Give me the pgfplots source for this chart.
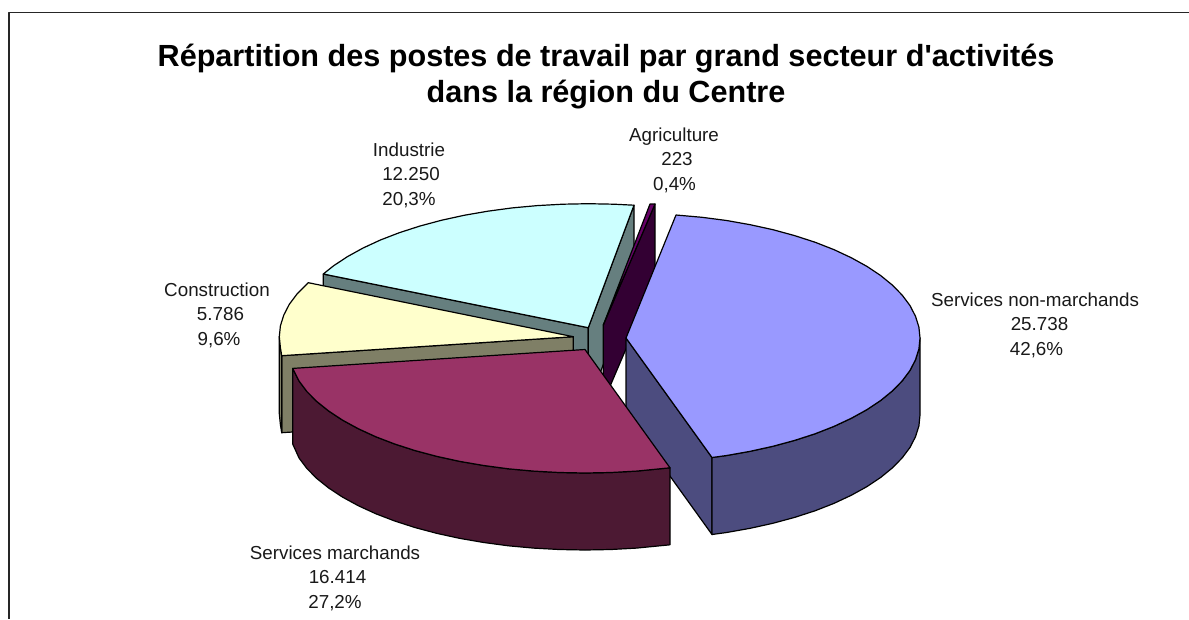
\documentclass[border=0pt]{standalone}
\usepackage{pgfplots}
\pgfplotsset{compat=1.18}
\usepackage{fontspec}
\setmainfont{Liberation Sans}
\definecolor{cblue}{HTML}{9999FF}
\definecolor{dblue}{HTML}{4C4C7F}
\definecolor{ccrim}{HTML}{993366}
\definecolor{dcrim}{HTML}{4C1933}
\definecolor{cyel}{HTML}{FFFFCC}
\definecolor{dyel}{HTML}{7F7F66}
\definecolor{ccya}{HTML}{CCFFFF}
\definecolor{dcya}{HTML}{667F7F}
\definecolor{cpur}{HTML}{660066}
\definecolor{dpur}{HTML}{330033}
\newcommand{\lab}[3]{\node[align=center,inner sep=0pt,anchor=center,font=\fontsize{18.8}{24.5}\selectfont,text=black!90] at (axis cs:#1,#2) {#3};}
\begin{document}
\begin{tikzpicture}[x=1pt,y=1pt]
\useasboundingbox (0,0) rectangle (1189,619);
\begin{axis}[at={(0,0)},anchor=south west,scale only axis,width=1189pt,height=619pt,
  xmin=0,xmax=1189,ymin=0,ymax=619,y dir=reverse,axis lines=none,clip=false,
  every axis plot/.append style={no markers,line width=1.2pt,draw=black,line join=round}]
% frame
\addplot[draw=black!85,line width=1.1pt] coordinates {(1189,12.5) (9,12.5) (9,619)};
% Industrie
\addplot[fill=dcya] coordinates {(323.3,274) (588.3,327.7) (588.3,404.7) (323.3,351)} --cycle;
\addplot[fill=dcya] coordinates {(588.3,327.7) (634,205.2) (634,282.2) (588.3,404.7)} --cycle;
\addplot[fill=ccya] coordinates {(588.3,327.7) (634,205.2) (613.9,204.2) (588.3,203.7) (562.7,204.2) (537.2,205.6) (512.2,207.9) (487.7,211.2) (464.1,215.3) (441.3,220.3) (419.7,226.1) (399.3,232.7) (380.4,240) (363.1,248) (347.5,256.6) (333.7,265.7) (323.3,274)} --cycle;
% Agriculture
\addplot[fill=dpur] coordinates {(603.3,325) (655,204) (655,281) (603.3,402)} --cycle;
\addplot[fill=cpur] coordinates {(603.3,325) (650,204) (655,204)} --cycle;
% Construction
\addplot[fill=dyel] coordinates {(281.7,355.7) (573.3,336.7) (573.3,413.7) (281.7,432.7)} --cycle;
\addplot[fill=dyel] coordinates {(279.3,336.7) (280.4,347.6) (281.7,355.7) (281.7,432.7) (280.4,424.6) (279.3,413.7)} --cycle;
\addplot[fill=cyel] coordinates {(573.3,336.7) (308.3,282.7) (297,294) (289.3,304.3) (283.8,315) (280.4,325.8) (279.3,336.7) (280.4,347.6) (281.7,355.7)} --cycle;
% Services non-marchands
\addplot[fill=dblue] coordinates {(626,338) (712,457.5) (712,534.5) (626,415)} --cycle;
\addplot[fill=dblue] coordinates {(920,338) (918.9,348.9) (915.5,359.7) (910,370.4) (902.3,380.75) (892.5,390.8) (880.6,400.5) (866.8,409.7) (851.2,418.3) (833.9,426.4) (815,433.8) (794.6,440.4) (773,446.25) (750.2,451.3) (726.6,455.5) (712,457.5) (712,534.5) (726.6,532.5) (750.2,528.3) (773,523.25) (794.6,517.4) (815,510.8) (833.9,503.4) (851.2,495.3) (866.8,486.7) (880.6,477.5) (892.5,467.8) (902.3,457.75) (910,447.4) (915.5,436.7) (918.9,425.9) (920,415)} --cycle;
\addplot[fill=cblue] coordinates {(626,338) (676,215) (702.1,217.3) (726.6,220.5) (750.2,224.7) (773,229.7) (794.6,235.6) (815,242.2) (833.9,249.6) (851.2,257.7) (866.8,266.3) (880.6,275.5) (892.5,285.2) (902.3,295.25) (910,305.6) (915.5,316.3) (918.9,327.1) (920,338) (918.9,348.9) (915.5,359.7) (910,370.4) (902.3,380.75) (892.5,390.8) (880.6,400.5) (866.8,409.7) (851.2,418.3) (833.9,426.4) (815,433.8) (794.6,440.4) (773,446.25) (750.2,451.3) (726.6,455.5) (712,457.5)} --cycle;
% Services marchands
\addplot[fill=dcrim] coordinates {(670,467.8) (636.4,471.1) (610.8,472.5) (585,473) (559.2,472.5) (533.6,471.1) (508.4,468.8) (483.8,465.5) (459.9,461.4) (437,456.4) (415.2,450.6) (394.7,444) (375.7,436.7) (358.3,428.7) (342.5,420.1) (328.7,411) (316.7,401.4) (306.8,391.4) (299.1,381.1) (292.7,368.4) (292.7,444) (299.1,458.1) (306.8,468.4) (316.7,478.4) (328.7,488) (342.5,497.1) (358.3,505.7) (375.7,513.7) (394.7,521) (415.2,527.6) (437,533.4) (459.9,538.4) (483.8,542.5) (508.4,545.8) (533.6,548.1) (559.2,549.5) (585,550) (610.8,549.5) (636.4,548.1) (670,544.8)} --cycle;
\addplot[fill=ccrim] coordinates {(585,349.5) (670,467.8) (636.4,471.1) (610.8,472.5) (585,473) (559.2,472.5) (533.6,471.1) (508.4,468.8) (483.8,465.5) (459.9,461.4) (437,456.4) (415.2,450.6) (394.7,444) (375.7,436.7) (358.3,428.7) (342.5,420.1) (328.7,411) (316.7,401.4) (306.8,391.4) (299.1,381.1) (292.7,368.4)} --cycle;
% Title
\node[align=center,inner sep=0pt,font=\fontsize{30.6}{36}\selectfont\bfseries] at (axis cs:606,76.5) {Répartition des postes de travail par grand secteur d\textquotesingle activités\\dans la région du Centre};
% Labels
\lab{1035}{325}{Services non-marchands\\\hspace*{9pt}25.738\\\hspace*{3pt}42,6\%}
\lab{335}{578}{Services marchands\\\hspace*{5pt}16.414\\27,2\%}
\lab{217}{315}{Construction\\\hspace*{7pt}5.786\\\hspace*{4pt}9,6\%}
\lab{409}{175}{Industrie\\\hspace*{4pt}12.250\\20,3\%}
\lab{674}{160}{Agriculture\\\hspace*{6pt}223\\\hspace*{1pt}0,4\%}
\end{axis}
\end{tikzpicture}
\end{document}
